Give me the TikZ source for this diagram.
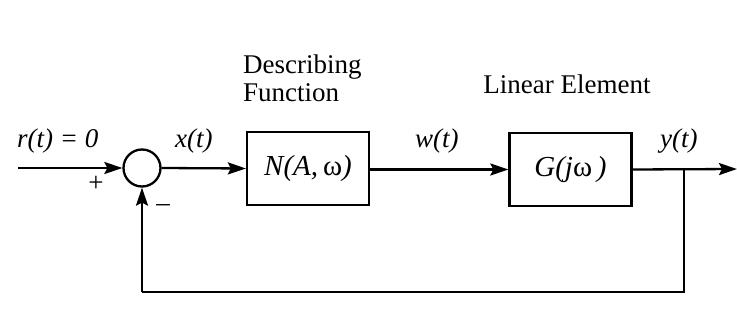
\documentclass[tikz,border=0pt]{standalone}
\usepackage{fontspec}
\setmainfont{Liberation Serif}
\usetikzlibrary{arrows.meta}
\begin{document}
\begin{tikzpicture}[x=1pt,y=-1pt,
  every node/.style={inner sep=0pt},
  txt/.style={font=\fontsize{27}{28}\selectfont},
  itl/.style={font=\fontsize{27}{28}\selectfont\itshape},
  blk/.style={draw, line width=2.3pt, minimum width=122pt, minimum height=73pt, font=\fontsize{29}{30}\selectfont\itshape},
  sumc/.style={draw, circle, line width=2.3pt, minimum size=37pt},
  sig/.style={line width=2.3pt, -{Stealth[length=18pt,width=12pt,inset=3pt]}},
  wire/.style={line width=2.3pt}]
\useasboundingbox (0,0) rectangle (737,320);
\fill[white] (0,0) rectangle (737,320);
% nodes
\coordinate (in) at (18,168);
\node[sumc] (sum) at (142,168) {};
\node[blk] (N) at (308,168.5) {N(A,\,{\upshape ω})};
\node[blk] (G) at (570.5,169.5) {G(j{\upshape ω}\,)};
\coordinate (out) at (737,169);
\coordinate (br) at (684,169);
\coordinate (c1) at (684,292);
\coordinate (c2) at (142,292);
% connectors
\draw[sig] (in) -- (sum.west);
\draw[sig] (sum.east) -- (N.west);
\draw[sig] (N.east |- G.west) -- (G.west);
\draw[sig] (G.east) -- (out);
\draw[wire] (br) -- (c1) -- (c2);
\draw[sig] (c2) -- (sum.south);
% labels
\node[itl, anchor=west] (lr) at (17,141) {r(t) = 0};
\node[itl, anchor=west] (lx) at (175,141) {x(t)};
\node[itl, anchor=west] (lw) at (415,141) {w(t)};
\node[itl, anchor=west] (ly) at (660,141) {y(t)};
\node[txt] (lp) at (96,184) {+};
\node[txt] (lm) at (163,208) {\textendash};
\node[txt, anchor=west, align=left] (ldf) at (243,78) {Describing\\Function};
\node[txt] (lle) at (567,84) {Linear Element};
\end{tikzpicture}
\end{document}
